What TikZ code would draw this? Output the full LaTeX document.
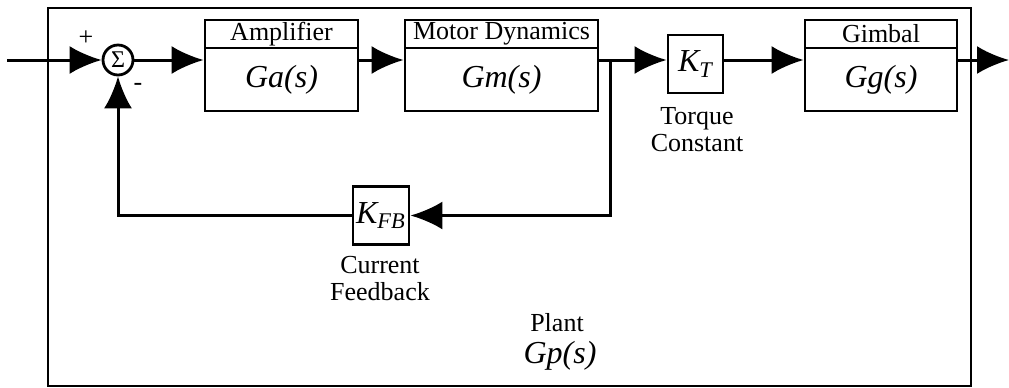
\documentclass[tikz,border=0pt]{standalone}
\usepackage{fontspec}
\setmainfont{Liberation Serif}
\usetikzlibrary{arrows.meta}

\begin{document}
\begin{tikzpicture}[x=0.5pt, y=-0.5pt, >={Latex[length=16pt,width=14pt]},
  sig/.style={line width=1.5pt},
  body/.style={draw, line width=1.4pt, inner sep=0pt, minimum height=31.5pt,
    font=\fontsize{16}{18}\selectfont\itshape},
  title/.style={draw, line width=1.4pt, inner sep=0pt, minimum height=14pt,
    font=\fontsize{13}{14}\selectfont},
  gain/.style={draw, line width=1.4pt, inner sep=0pt, minimum width=28pt,
    minimum height=29pt, font=\fontsize{16}{18}\selectfont\itshape},
  lbl/.style={align=center, font=\fontsize{13}{13.5}\selectfont}]

\useasboundingbox (0,0) rectangle (1009,387);

\def\yS{60}
\def\yT{34}
\def\yB{79.5}

% plant frame
\draw[line width=0.8pt] (48,8) rectangle (971,386);

\node[circle, draw, line width=1.4pt, inner sep=0pt, minimum size=15pt,
  font=\fontsize{12}{12}\selectfont] (sum) at (118,\yS) {Σ};
\node[font=\fontsize{13}{13}\selectfont] (plus) at (86,38) {+};
\node[font=\fontsize{13}{13}\selectfont] (minus) at (138,87) {-};

\node[title, minimum width=76.5pt] (ampT) at (281.5,\yT) {Amplifier};
\node[body, minimum width=76.5pt] (amp) at (281.5,\yB) {Ga(s)};

\node[title, minimum width=96.5pt] (motT) at (501.5,\yT) {Motor Dynamics};
\node[body, minimum width=96.5pt] (mot) at (501.5,\yB) {Gm(s)};

\node[gain, minimum width=27.5pt] (kt) at (695.5,64) {K\textsubscript{\itshape T}};
\node[lbl] (ktlbl) at (697,130) {Torque\\Constant};

\node[title, minimum width=76pt] (gimT) at (881,\yT) {Gimbal};
\node[body, minimum width=76pt] (gim) at (881,\yB) {Gg(s)};

\node[gain] (kfb) at (381,215.5) {K\textsubscript{\itshape FB}};
\node[lbl] (kfblbl) at (380,279) {Current\\Feedback};

\node[anchor=base, inner sep=0pt, text depth=0pt, font=\fontsize{13}{13.5}\selectfont]
  (plant) at (557,331) {Plant};
\node[anchor=base, inner sep=0pt, text height=8pt, font=\fontsize{16}{18}\selectfont\itshape]
  (gp) at (560,363) {Gp(s)};

\coordinate (in) at (7,\yS);
\coordinate (br) at (610,\yS);
\coordinate (out) at (1009,\yS);

\draw[sig,->] (in) -- (sum);
\draw[sig,->] (sum) -- (sum -| amp.west);
\draw[sig,->] (sum -| amp.east) -- (sum -| mot.west);
\draw[sig] (sum -| mot.east) -- (br);
\draw[sig,->] (br) -- (br -| kt.west);
\draw[sig,->] (br -| kt.east) -- (br -| gim.west);
\draw[sig,->] (br -| gim.east) -- (out);
\draw[sig,->] (br) |- (kfb);
\draw[sig,->] (kfb) -| (sum);

\end{tikzpicture}
\end{document}
